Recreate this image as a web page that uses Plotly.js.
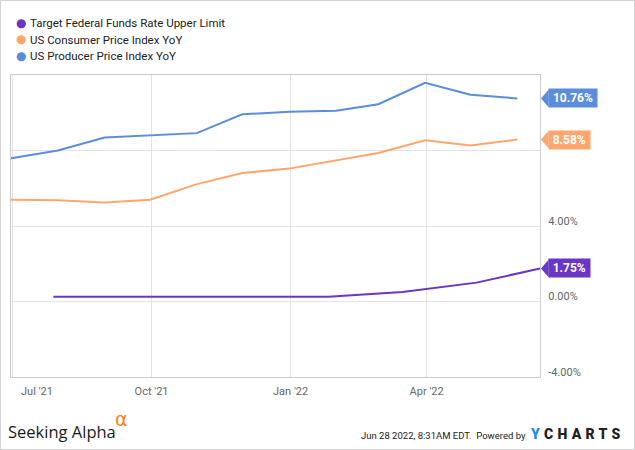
<!DOCTYPE html>
<html><head><meta charset="utf-8">
<script src="https://cdn.plot.ly/plotly-3.0.1.min.js"></script>
<style>html,body{margin:0;padding:0;background:#fff}#chart{width:633px;height:448px;border:1px solid #d4d4d4}</style>
</head><body><div id="chart"></div>
<script>
// ---- data ----
const months = ['2021-06-30','2021-07-31','2021-08-31','2021-09-30','2021-10-31','2021-11-30','2021-12-31','2022-01-31','2022-02-28','2022-03-31','2022-04-30','2022-05-31'];
const cpiYoY = [5.39, 5.37, 5.25, 5.39, 6.22, 6.81, 7.04, 7.48, 7.87, 8.54, 8.26, 8.58];
const ppiYoY = [7.59, 8.00, 8.69, 8.81, 8.92, 9.92, 10.05, 10.10, 10.45, 11.59, 10.95, 10.76];
const fedDates = ['2021-07-28','2021-09-22','2021-11-03','2021-12-15','2022-01-26','2022-03-16','2022-05-04','2022-06-15'];
const fedUpper = [0.25, 0.25, 0.25, 0.25, 0.25, 0.50, 1.00, 1.75];
const seriesNames = ['Target Federal Funds Rate Upper Limit','US Consumer Price Index YoY','US Producer Price Index YoY'];
const xRange = ['2021-06-30','2022-06-15'];
const xTickVals = ['2021-07-01','2021-10-01','2022-01-01','2022-04-01'];
const xTickText = ["Jul '21","Oct '21","Jan '22","Apr '22"];
const yTickVals = [-4, 0, 4, 8];
const yTickText = ['-4.00%','0.00%','4.00%',''];
const yRange = [-4, 12];
const timestamp = 'Jun 28 2022, 8:31AM EDT.';

// ---- style ----
const colors = ['#6b35c7', '#ffa56e', '#5a8ddb'];
const FONT = 'Roboto, sans-serif';
const L = 11, R = 540, T = 75, B = 377; // plot area in page px (for text placement)

const series = [
  {x: fedDates, y: fedUpper},
  {x: months, y: cpiYoY},
  {x: months, y: ppiYoY}
];

const traces = series.map((s, i) => ({
  type: 'scatter', mode: 'lines', x: s.x, y: s.y, name: seriesNames[i],
  line: {color: colors[i], width: 2}, showlegend: false, hoverinfo: 'skip'
}));

const annotations = [];
const shapes = [];

// end-value flags
series.forEach((s, i) => {
  const last = s.y[s.y.length - 1];
  const label = last.toFixed(2) + '%';
  annotations.push({
    xref: 'paper', x: 1, xanchor: 'left', xshift: 8,
    yref: 'y', y: last, yanchor: 'middle',
    text: label, showarrow: false, bgcolor: colors[i], borderpad: 1,
    width: label.length * 7.3 + 2, height: 15.5,
    font: {family: FONT, size: 12, color: '#ffffff', weight: 700}
  });
  shapes.push({
    type: 'path', xref: 'paper', yref: 'y', xsizemode: 'pixel', ysizemode: 'pixel',
    xanchor: 1, yanchor: last, path: 'M1,0L8.6,-8.75L8.6,8.75Z',
    fillcolor: colors[i], line: {width: 0}
  });
});

// legend (top-left): dot + label
const legendY = [23.3, 39.5, 56];
seriesNames.forEach((n, i) => {
  annotations.push({
    xref: 'paper', x: 0, xanchor: 'center', xshift: 21 - L,
    yref: 'paper', y: 1, yanchor: 'middle', yshift: T - legendY[i] + 0.5,
    text: '●', showarrow: false, borderpad: 0,
    font: {family: 'DejaVu Sans, sans-serif', size: 12, color: colors[i]}
  });
  annotations.push({
    xref: 'paper', x: 0, xanchor: 'left', xshift: 29 - L,
    yref: 'paper', y: 1, yanchor: 'middle', yshift: T - legendY[i],
    text: n, showarrow: false, borderpad: 0, height: 14,
    font: {family: FONT, size: 11.5, color: '#222222'}
  });
});

// first x tick label (shifted inside plot like the reference)
annotations.push({
  xref: 'x', x: xTickVals[0], xanchor: 'left', xshift: 7,
  yref: 'paper', y: 0, yanchor: 'middle', yshift: B - 391,
  text: xTickText[0], showarrow: false, borderpad: 0,
  font: {family: FONT, size: 11, color: '#666666'}
});

// footer
annotations.push({
  xref: 'paper', x: 0, xanchor: 'left', xshift: 7 - L,
  yref: 'paper', y: 0, yanchor: 'middle', yshift: B - 431,
  text: 'Seeking Alpha', showarrow: false, borderpad: 0,
  font: {family: 'Open Sans, sans-serif', size: 16.5, color: '#1a1a1a'}
});
annotations.push({
  xref: 'paper', x: 0, xanchor: 'left', xshift: 114 - L,
  yref: 'paper', y: 0, yanchor: 'middle', yshift: B - 419,
  text: 'α', showarrow: false, borderpad: 0,
  font: {family: 'DejaVu Sans, sans-serif', size: 19, color: '#f5821f'}
});
annotations.push({
  xref: 'paper', x: 1, xanchor: 'right', xshift: 527 - R,
  yref: 'paper', y: 0, yanchor: 'middle', yshift: B - 435.5,
  text: timestamp + '&nbsp;&nbsp;Powered by', showarrow: false, borderpad: 0,
  font: {family: FONT, size: 9.5, color: '#222222'}
});
annotations.push({
  xref: 'paper', x: 1, xanchor: 'right', xshift: 626 - R,
  yref: 'paper', y: 0, yanchor: 'middle', yshift: B - 434,
  text: '<span style="letter-spacing:4.3px"><span style="color:#1b8ce3">Y</span>CHARTS</span>', showarrow: false, borderpad: 0,
  font: {family: FONT, size: 14, color: '#222222', weight: 900}
});

const layout = {
  width: 633, height: 448,
  margin: {l: L - 1, r: 634 - R, t: T - 1, b: 449 - B, pad: 0},
  paper_bgcolor: '#ffffff', plot_bgcolor: '#ffffff',
  showlegend: false,
  font: {family: FONT},
  xaxis: {
    type: 'date', range: xRange, tickmode: 'array', tickvals: xTickVals,
    ticktext: [''].concat(xTickText.slice(1)),
    showgrid: true, gridcolor: '#e3e3e3', gridwidth: 1,
    showline: true, linecolor: '#cccccc', linewidth: 1, mirror: true,
    ticks: '', zeroline: false, ticklabelstandoff: 4,
    tickfont: {family: FONT, size: 11, color: '#666666'}
  },
  yaxis: {
    side: 'right', range: yRange, tickmode: 'array', tickvals: yTickVals, ticktext: yTickText,
    showgrid: true, gridcolor: '#e3e3e3', gridwidth: 1,
    showline: true, linecolor: '#cccccc', linewidth: 1, mirror: true,
    ticks: '', zeroline: false, ticklabelshift: -5, ticklabelstandoff: 5,
    tickfont: {family: FONT, size: 11, color: '#666666'}
  },
  annotations: annotations,
  shapes: shapes
};

Plotly.newPlot('chart', traces, layout, {displayModeBar: false, staticPlot: true});
</script>
</body></html>
